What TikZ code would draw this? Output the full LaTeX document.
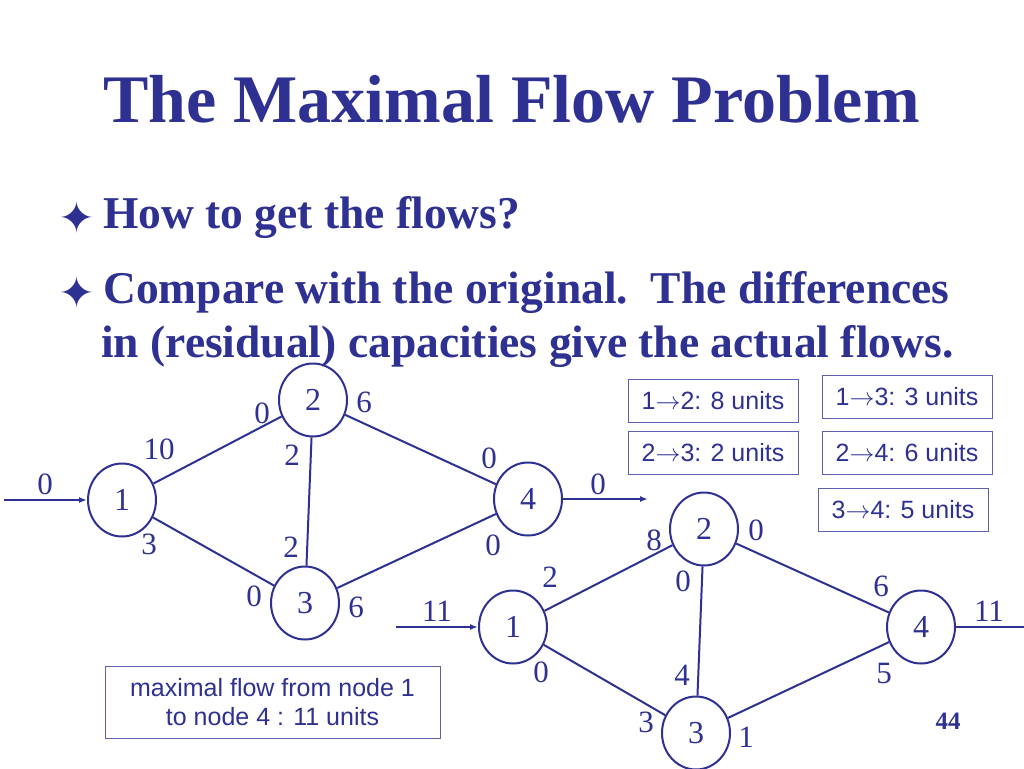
\documentclass[tikz,border=0pt]{standalone}
\usepackage{fontspec}
\setmainfont{Liberation Serif}
\newfontfamily\arialf{Liberation Sans}
\newfontfamily\dejavuf{DejaVu Sans}
\usetikzlibrary{shapes.geometric,arrows.meta}
\definecolor{ink}{RGB}{46,49,146}
\definecolor{boxline}{RGB}{95,95,175}
\newcommand{\flowarrow}{$\rightarrow$}
\begin{document}
\begin{tikzpicture}[x=1pt,y=-1pt,
  vert/.style={ellipse, draw=ink, line width=2pt, minimum width=68pt, minimum height=73pt, inner sep=0pt, font=\fontsize{32}{32}\selectfont, text=ink},
  lab/.style={font=\fontsize{31}{31}\selectfont, text=ink, inner sep=0pt},
  edge/.style={draw=ink, line width=2pt},
  arr/.style={draw=ink, line width=2pt, -{Latex[length=8pt,width=6pt]}},
  unitbox/.style={draw=boxline, line width=1pt, font=\arialf\fontsize{25}{28}\selectfont, text=ink, minimum width=170pt, minimum height=43pt, inner sep=0pt},
  bul/.style={font=\dejavuf\fontsize{44}{44}\selectfont, text=ink, inner sep=0pt},
  bodytxt/.style={font=\bfseries\fontsize{45.5}{45.5}\selectfont, text=ink, inner sep=0pt, anchor=base west}
]
\useasboundingbox[fill=white] (0,0) rectangle (1024,768);

% title and text
\node[font=\bfseries\fontsize{68}{68}\selectfont, text=ink, inner sep=0pt, anchor=base west] (title) at (103,122) {The Maximal Flow Problem};
\node[bul] (b1) at (76.5,217) {✦};
\node[bodytxt] (t1) at (103,228) {How to get the flows?};
\node[bul] (b2) at (76.5,292) {✦};
\node[bodytxt] (t2) at (103,303) {Compare with the original.\ \ The differences};
\node[bodytxt] (t3) at (101,357) {in (residual) capacities give the actual flows.};

% left network
\node[vert] (l1) at (122,500) {1};
\node[vert] (l2) at (313,400) {2};
\node[vert] (l3) at (305,603) {3};
\node[vert] (l4) at (528,499) {4};
\coordinate (lin) at (4,500);
\coordinate (lout) at (648,499);
\draw[arr] (lin) -- (l1);
\draw[arr] (l4) -- (lout);
\draw[edge] (l1) -- (l2);
\draw[edge] (l1) -- (l3);
\draw[edge] (l2) -- (l3);
\draw[edge] (l2) -- (l4);
\draw[edge] (l3) -- (l4);
\node[lab] (a1) at (45,484) {0};
\node[lab] (a2) at (159,449) {10};
\node[lab] (a3) at (149,544) {3};
\node[lab] (a4) at (262,413) {0};
\node[lab] (a5) at (364,402) {6};
\node[lab] (a6) at (292,455) {2};
\node[lab] (a7) at (291,547) {2};
\node[lab] (a8) at (254,596) {0};
\node[lab] (a9) at (356,607) {6};
\node[lab] (a10) at (489,458) {0};
\node[lab] (a11) at (493,545) {0};
\node[lab] (a12) at (598,484) {0};

% right network
\node[vert] (r1) at (513,627) {1};
\node[vert] (r2) at (704,529) {2};
\node[vert] (r3) at (696,733) {3};
\node[vert] (r4) at (921,627) {4};
\coordinate (rin) at (396,627);
\coordinate (rout) at (1024,627);
\draw[arr] (rin) -- (r1);
\draw[edge] (r4) -- (rout);
\draw[edge] (r1) -- (r2);
\draw[edge] (r1) -- (r3);
\draw[edge] (r2) -- (r3);
\draw[edge] (r2) -- (r4);
\draw[edge] (r3) -- (r4);
\node[lab] (c1) at (437,611) {11};
\node[lab] (c2) at (550,577) {2};
\node[lab] (c3) at (541,672) {0};
\node[lab] (c4) at (654,540) {8};
\node[lab] (c5) at (756,530) {0};
\node[lab] (c6) at (683,581) {0};
\node[lab] (c7) at (682,675) {4};
\node[lab] (c8) at (646,722) {3};
\node[lab] (c9) at (746,737) {1};
\node[lab] (c10) at (881,586) {6};
\node[lab] (c11) at (884,673) {5};
\node[lab] (c12) at (989,611) {11};

% boxes
\node[unitbox] (u12) at (713,400.5) {1\flowarrow2: 8 units};
\node[unitbox] (u13) at (907,397) {1\flowarrow3: 3 units};
\node[unitbox] (u23) at (713,453) {2\flowarrow3: 2 units};
\node[unitbox] (u24) at (907,453) {2\flowarrow4: 6 units};
\node[unitbox] (u34) at (903,509.5) {3\flowarrow4: 5 units};
\node[draw=boxline, line width=1pt, font=\arialf\fontsize{25}{29}\selectfont, text=ink, minimum width=335pt, minimum height=72pt, inner sep=0pt, align=center] (maxbox) at (272.5,702) {maximal flow from node 1\\to node 4 : 11 units};

\node[font=\bfseries\fontsize{25}{25}\selectfont, text=ink, inner sep=0pt] (pg) at (948,721) {44};
\end{tikzpicture}
\end{document}
